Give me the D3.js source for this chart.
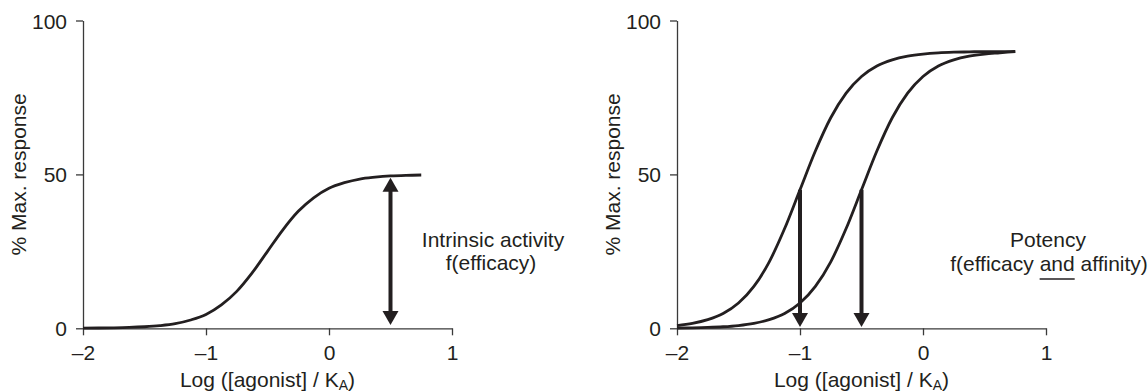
<!DOCTYPE html>
<html>
<head>
<meta charset="utf-8">
<script src="https://cdn.jsdelivr.net/npm/d3@7"></script>
<style>
  html, body { margin: 0; padding: 0; background: #fff; }
  svg { display: block; }
  text { font-family: "Liberation Sans", Arial, Helvetica, sans-serif; fill: #231f20; }
</style>
</head>
<body>
<svg id="chart" width="1148" height="392"></svg>
<script>
// Log agonist concentration (relative to K_A) at which responses are sampled
const logDose = [-2, -1.875, -1.75, -1.625, -1.5, -1.375, -1.25, -1.125, -1, -0.875, -0.75, -0.625,
                 -0.5, -0.375, -0.25, -0.125, 0, 0.125, 0.25, 0.375, 0.5, 0.625, 0.75];

// Left panel: partial agonist, plateau near 50 % of maximum
const partialResponse = [0.05, 0.09, 0.16, 0.28, 0.5, 0.87, 1.5, 2.7, 4.5, 7.6, 12.0, 18.0,
                         25.0, 32.0, 38.0, 42.4, 45.5, 47.3, 48.5, 49.1, 49.5, 49.7, 49.8];

// Right panel: two full agonists of different potency, plateau near 90 %
const potentResponse = [0.9, 1.6, 2.8, 4.8, 8.2, 13.6, 21.6, 32.4, 45.0, 57.6, 68.4, 76.4,
                        81.8, 85.2, 87.2, 88.4, 89.1, 89.5, 89.7, 89.8, 89.9, 89.9, 90.0];
const weakResponse   = [0.09, 0.16, 0.28, 0.5, 0.9, 1.6, 2.8, 4.8, 8.2, 13.6, 21.6, 32.4,
                        45.0, 57.6, 68.4, 76.4, 81.8, 85.2, 87.2, 88.4, 89.1, 89.5, 89.9];

// Axis ticks
const xTickValues = [-2, -1, 0, 1];
const yTickValues = [0, 50, 100];

// Annotated arrows: [log dose, from %, to %]
const efficacyArrow = [0.5, 48.9, 1.1];
const potencyArrows = [[-1, 45, 0.4], [-0.5, 45, 0.4]];

const ink = "#231f20";
const axisInk = "#3a3a3a";
const svg = d3.select("#chart");

const y = d3.scaleLinear().domain([0, 100]).range([328.3, 20.5]);
const fmt = d => d < 0 ? "\u2013" + Math.abs(d) : String(d);

function drawPanel(x0) {
  const x = d3.scaleLinear().domain([-2, 1]).range([x0, x0 + 369]);
  const g = svg.append("g");

  const xAxis = g.append("g")
    .attr("transform", `translate(0,${y(0)})`)
    .call(d3.axisBottom(x).tickValues(xTickValues).tickFormat(fmt).tickSize(7).tickSizeOuter(0).tickPadding(5));
  const yAxis = g.append("g")
    .attr("transform", `translate(${x0},0)`)
    .call(d3.axisLeft(y).tickValues(yTickValues).tickFormat(fmt).tickSize(7).tickSizeOuter(0).tickPadding(9));

  [xAxis, yAxis].forEach(a => {
    a.select(".domain").attr("stroke", axisInk).attr("stroke-width", 1.3);
    a.selectAll(".tick line").attr("stroke", axisInk).attr("stroke-width", 1.3);
    a.selectAll(".tick text").attr("font-size", 21).attr("fill", ink)
      .style("font-family", "'Liberation Sans', Arial, Helvetica, sans-serif");
  });
  xAxis.selectAll(".tick text").attr("dy", 19.5);
  yAxis.selectAll(".tick text").attr("dy", "0.36em");

  // axis titles
  const xt = g.append("text")
    .attr("x", (x(-2) + x(1)) / 2).attr("y", 387)
    .attr("text-anchor", "middle").attr("font-size", 21);
  xt.append("tspan").text("Log ([agonist] / K");
  xt.append("tspan").attr("font-size", 14).attr("dy", 3).text("A");
  xt.append("tspan").attr("dy", -3).text(")");

  g.append("text")
    .attr("transform", `translate(${x0 - 57},${(y(0) + y(100)) / 2}) rotate(-90)`)
    .attr("text-anchor", "middle").attr("font-size", 21)
    .text("% Max. response");

  return { g, x };
}

const line = xs => d3.line()
  .x((d, i) => xs(logDose[i]))
  .y(d => y(d))
  .curve(d3.curveMonotoneX);

function arrowHead(g, cx, tipY, dir) {
  // dir = +1 points down, -1 points up
  const w = 8, h = 14;
  g.append("path")
    .attr("d", `M${cx},${tipY} L${cx - w},${tipY - dir * h} L${cx + w},${tipY - dir * h} Z`)
    .attr("fill", ink);
}

// ---------- left panel: intrinsic activity ----------
const left = drawPanel(83);
left.g.append("path")
  .attr("d", line(left.x)(partialResponse))
  .attr("fill", "none").attr("stroke", ink).attr("stroke-width", 2.8);

{
  const [lx, top, bot] = efficacyArrow;
  const cx = left.x(lx);
  left.g.append("line")
    .attr("x1", cx).attr("x2", cx)
    .attr("y1", y(top) + 10).attr("y2", y(bot) - 10)
    .attr("stroke", ink).attr("stroke-width", 4);
  arrowHead(left.g, cx, y(top), -1);
  arrowHead(left.g, cx, y(bot), 1);
}

const la = left.g.append("text").attr("text-anchor", "middle").attr("font-size", 21);
la.append("tspan").attr("x", 493).attr("y", 247).text("Intrinsic activity");
la.append("tspan").attr("x", 491).attr("y", 270).text("f(efficacy)");

// ---------- right panel: potency ----------
const right = drawPanel(677);
[potentResponse, weakResponse].forEach(series => {
  right.g.append("path")
    .attr("d", line(right.x)(series))
    .attr("fill", "none").attr("stroke", ink).attr("stroke-width", 2.8);
});

potencyArrows.forEach(([lx, top, bot]) => {
  const cx = right.x(lx);
  right.g.append("line")
    .attr("x1", cx).attr("x2", cx)
    .attr("y1", y(top)).attr("y2", y(bot) - 10)
    .attr("stroke", ink).attr("stroke-width", 4);
  arrowHead(right.g, cx, y(bot), 1);
});

const ra = right.g.append("text").attr("text-anchor", "middle").attr("font-size", 21);
ra.append("tspan").attr("x", 1048).attr("y", 247).text("Potency");
const second = right.g.append("text").attr("text-anchor", "middle").attr("font-size", 21)
  .attr("x", 1049).attr("y", 271);
const parts = ["f(efficacy ", "and", " affinity)"];
parts.forEach(p => second.append("tspan").text(p));

// underline the word "and"
{
  const node = second.node();
  const start = parts[0].length;
  const end = start + parts[1].length - 1;
  const x1 = node.getStartPositionOfChar(start).x;
  const x2 = node.getEndPositionOfChar(end).x;
  right.g.append("line")
    .attr("x1", x1).attr("x2", x2)
    .attr("y1", 279).attr("y2", 279)
    .attr("stroke", ink).attr("stroke-width", 1.5);
}
</script>
</body>
</html>
